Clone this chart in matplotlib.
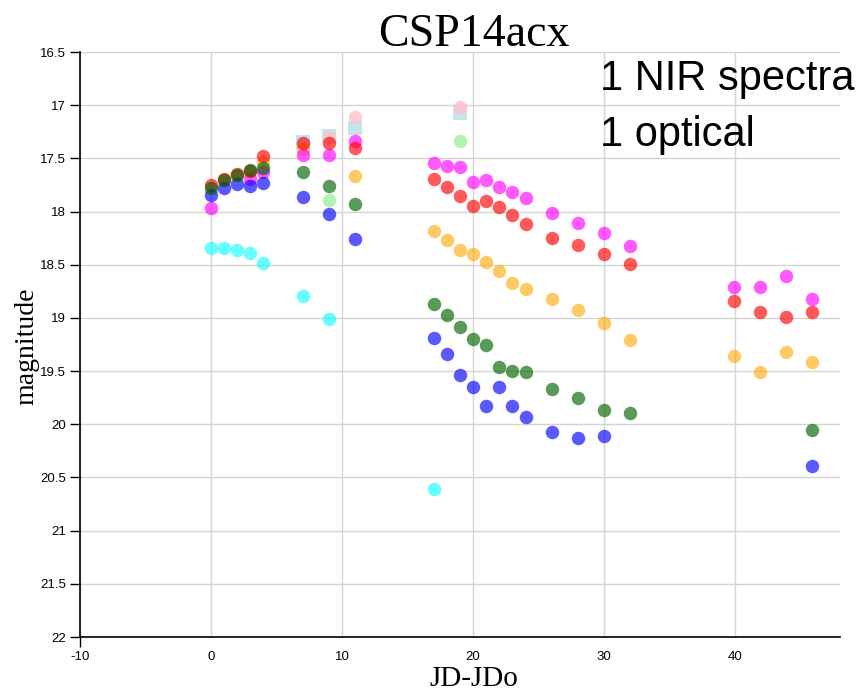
import numpy as np
import matplotlib
matplotlib.use("Agg")
import matplotlib.pyplot as plt

# light curve of CSP14acx, one list pair per filter colour
days_cyan = [0, 1, 2, 3, 4, 7, 9, 17]
mag_cyan = [18.34, 18.34, 18.36, 18.39, 18.48, 18.79, 19.01, 20.61]

days_blue = [0, 1, 2, 3, 4, 7, 9, 11, 17, 18, 19, 20, 21, 22, 23, 24, 26, 28, 30, 45.9]
mag_blue = [17.84, 17.775, 17.74, 17.76, 17.73, 17.86, 18.02, 18.26, 19.19, 19.34,
            19.54, 19.65, 19.83, 19.65, 19.83, 19.93, 20.07, 20.13, 20.11, 20.39]

days_green = [0, 1, 2, 3, 4, 7, 9, 11, 17, 18, 19, 20, 21, 22, 23, 24, 26, 28, 30, 32, 45.9]
mag_green = [17.775, 17.70, 17.66, 17.61, 17.59, 17.63, 17.76, 17.93, 18.87, 18.97,
             19.09, 19.20, 19.25, 19.46, 19.50, 19.51, 19.67, 19.75, 19.87, 19.89, 20.05]

days_orange = [4, 7, 11, 17, 18, 19, 20, 21, 22, 23, 24, 26, 28, 30, 32, 39.9, 41.9, 43.9, 45.9]
mag_orange = [17.53, 17.41, 17.67, 18.18, 18.27, 18.36, 18.40, 18.47, 18.56, 18.67,
              18.73, 18.82, 18.93, 19.05, 19.21, 19.36, 19.51, 19.32, 19.41]

days_red = [0, 1, 2, 3, 4, 7, 9, 11, 17, 18, 19, 20, 21, 22, 23, 24, 26, 28, 30, 32,
            39.9, 41.9, 43.9, 45.9]
mag_red = [17.75, 17.69, 17.65, 17.62, 17.48, 17.36, 17.36, 17.40, 17.69, 17.77,
           17.85, 17.95, 17.90, 17.96, 18.03, 18.12, 18.25, 18.31, 18.40, 18.49,
           18.84, 18.94, 18.99, 18.94]

days_magenta = [0, 3, 4, 7, 9, 11, 17, 18, 19, 20, 21, 22, 23, 24, 26, 28, 30, 32,
                39.9, 41.9, 43.9, 45.9]
mag_magenta = [17.97, 17.69, 17.63, 17.47, 17.47, 17.34, 17.54, 17.57, 17.58, 17.72,
               17.70, 17.77, 17.82, 17.87, 18.01, 18.11, 18.20, 18.32, 18.71, 18.71,
               18.61, 18.82]

# NIR points
days_pink = [9, 11, 19]
mag_pink = [17.30, 17.11, 17.02]

days_lightblue = [7, 9, 11, 19]
mag_lightblue = [17.35, 17.29, 17.21, 17.07]

days_lightgreen = [9, 19]
mag_lightgreen = [17.89, 17.34]

x_ticks = [-10, 0, 10, 20, 30, 40]
y_ticks = [16.5, 17, 17.5, 18, 18.5, 19, 19.5, 20, 20.5, 21, 21.5, 22]

fig = plt.figure(figsize=(8.62, 6.91), dpi=100)
ax = fig.add_axes([80 / 862, 54 / 691, 760 / 862, 585 / 691])

size = 94
ax.scatter(days_lightblue, mag_lightblue, s=size, marker="s", color="lightblue", alpha=0.7, lw=0)
ax.scatter(days_pink, mag_pink, s=size, color="pink", alpha=0.8, lw=0)
ax.scatter(days_lightgreen, mag_lightgreen, s=size, color="lightgreen", alpha=0.7, lw=0)
ax.scatter(days_cyan, mag_cyan, s=size, color="cyan", alpha=0.6, lw=0)
ax.scatter(days_orange, mag_orange, s=size, color="orange", alpha=0.6, lw=0)
ax.scatter(days_magenta, mag_magenta, s=size, color="magenta", alpha=0.65, lw=0)
ax.scatter(days_red, mag_red, s=size, color="red", alpha=0.65, lw=0)
ax.scatter(days_blue, mag_blue, s=size, color="blue", alpha=0.65, lw=0)
ax.scatter(days_green, mag_green, s=size, color="darkgreen", alpha=0.65, lw=0)

ax.set_xlim(-10, 48)
ax.set_ylim(22, 16.5)
ax.set_xticks(x_ticks)
ax.set_xticklabels([str(t) for t in x_ticks])
ax.set_yticks(y_ticks)
ax.set_yticklabels([f"{t:g}" for t in y_ticks])

ax.grid(True, color="#d4d4d4", lw=1)
ax.set_axisbelow(True)
for side in ("top", "right"):
    ax.spines[side].set_visible(False)
for side in ("left", "bottom"):
    ax.spines[side].set_linewidth(1.2)
ax.tick_params(direction="out", length=7, width=1, pad=3, labelsize=9.5)
# only the first x tick keeps its mark (continues the y axis below the origin)
for tick in ax.xaxis.get_major_ticks()[1:]:
    tick.tick1line.set_visible(False)
for lbl in ax.get_xticklabels() + ax.get_yticklabels():
    lbl.set_family("Liberation Sans")

fig.text(474 / 862, 1 - 46 / 691, "CSP14acx", family="Liberation Serif", size=33,
         ha="center", va="baseline")
fig.text(27 / 862, 1 - 346 / 691, "magnitude", family="Liberation Serif", size=20,
         rotation=90, ha="center", va="center")
fig.text(474 / 862, 1 - 686 / 691, "JD-JDo", family="Liberation Serif", size=21,
         ha="center", va="baseline")
fig.text(600 / 862, 1 - 90 / 691, "1 NIR spectra", family="Liberation Sans", size=30,
         va="baseline")
fig.text(600 / 862, 1 - 146 / 691, "1 optical", family="Liberation Sans", size=30,
         va="baseline")

fig.savefig("out.png", dpi=100)
